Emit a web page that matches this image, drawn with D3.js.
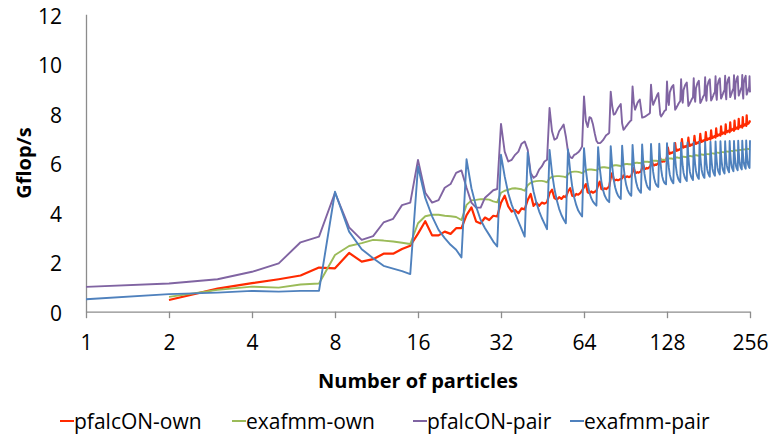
<!DOCTYPE html>
<html>
<head>
<meta charset="utf-8">
<script src="https://cdn.jsdelivr.net/npm/d3@7"></script>
<style>
  body { margin: 0; background: #fff; }
  svg { display: block; }
  text { font-family: "Open Sans", "Liberation Sans", sans-serif; fill: #000; }
</style>
</head>
<body>
<svg class="container" width="772" height="437"></svg>
<script>
  // DATA
  // number of particles, one point per integer from 1 to 256
  var particles = d3.range(1, 257);

  var xTicks = [1, 2, 4, 8, 16, 32, 64, 128, 256];
  var yTicks = [0, 2, 4, 6, 8, 10, 12];

  var seriesNames = ["pfalcON-own", "exafmm-own", "pfalcON-pair", "exafmm-pair"];

  var pfalconOwn = [null, 0.47, 0.93, 1.15, 1.31, 1.46, 1.78,
    1.75, 2.37, 2.02, 2.12, 2.34, 2.34, 2.53, 2.66,
    3.15, 3.65, 3.08, 3.08, 3.23, 3.14, 3.37, 3.37,
    3.90, 4.21, 3.64, 3.56, 3.80, 3.70, 3.87, 3.84,
    4.40, 4.68, 4.25, 4.04, 4.10, 3.97, 4.17, 4.13,
    4.51, 4.75, 4.27, 4.40, 4.27, 4.40, 4.36, 4.42,
    4.78, 4.92, 4.58, 4.52, 4.62, 4.55, 4.66, 4.62,
    4.85, 4.98, 4.68, 4.65, 4.75, 4.72, 4.78, 4.90,
    5.02, 5.15, 4.82, 4.78, 4.85, 4.80, 4.84, 4.88,
    5.10, 5.25, 4.95, 4.92, 4.98, 4.95, 5.00, 5.05,
    5.40, 5.59, 5.35, 5.30, 5.33, 5.30, 5.33, 5.35,
    5.38, 5.50, 5.42, 5.44, 5.46, 5.43, 5.45, 5.48,
    5.65, 5.79, 5.62, 5.60, 5.63, 5.61, 5.64, 5.66,
    5.80, 5.92, 5.78, 5.76, 5.80, 5.78, 5.82, 5.84,
    5.95, 6.05, 5.92, 5.90, 5.94, 5.92, 5.96, 5.98,
    6.10, 6.19, 6.06, 6.05, 6.08, 6.06, 6.10, 6.12,
    6.25, 6.62, 6.40, 6.37, 6.42, 6.40, 6.43, 6.45,
    6.42, 6.80, 6.52, 6.49, 6.54, 6.52, 6.55, 6.57,
    6.55, 6.96, 6.65, 6.62, 6.67, 6.65, 6.68, 6.70,
    6.62, 7.02, 6.72, 6.69, 6.74, 6.72, 6.75, 6.77,
    6.70, 7.10, 6.80, 6.77, 6.82, 6.80, 6.83, 6.85,
    6.78, 7.18, 6.88, 6.85, 6.90, 6.88, 6.91, 6.93,
    6.86, 7.25, 6.96, 6.93, 6.98, 6.96, 6.99, 7.01,
    6.94, 7.32, 7.04, 7.01, 7.06, 7.04, 7.07, 7.09,
    7.02, 7.40, 7.12, 7.09, 7.14, 7.12, 7.15, 7.17,
    7.10, 7.48, 7.20, 7.17, 7.22, 7.20, 7.23, 7.25,
    7.17, 7.56, 7.27, 7.24, 7.29, 7.27, 7.30, 7.32,
    7.24, 7.64, 7.34, 7.31, 7.36, 7.34, 7.37, 7.39,
    7.30, 7.71, 7.40, 7.37, 7.42, 7.40, 7.43, 7.45,
    7.37, 7.78, 7.47, 7.44, 7.49, 7.47, 7.50, 7.52,
    7.43, 7.85, 7.53, 7.50, 7.55, 7.53, 7.56, 7.58,
    7.50, 7.92, 7.60, 7.57, 7.62, 7.60, 7.63, 7.65,
    7.72];

  var exafmmOwn = [null, 0.60, 0.88, 1.01, 0.97, 1.10, 1.14,
    2.29, 2.65, 2.77, 2.90, 2.87, 2.83, 2.78, 2.73,
    3.57, 3.85, 3.91, 3.91, 3.87, 3.85, 3.82, 3.70,
    4.31, 4.49, 4.51, 4.54, 4.54, 4.52, 4.45, 4.41,
    4.80, 4.88, 4.92, 4.97, 4.98, 4.96, 4.94, 4.88,
    5.10, 5.20, 5.25, 5.27, 5.28, 5.28, 5.26, 5.22,
    5.38, 5.44, 5.46, 5.47, 5.47, 5.46, 5.45, 5.42,
    5.55, 5.62, 5.64, 5.65, 5.65, 5.64, 5.62, 5.59,
    5.65, 5.70, 5.73, 5.74, 5.74, 5.73, 5.72, 5.70,
    5.76, 5.80, 5.82, 5.83, 5.83, 5.82, 5.81, 5.80,
    5.84, 5.88, 5.90, 5.91, 5.91, 5.90, 5.89, 5.88,
    5.91, 5.94, 5.95, 5.96, 5.96, 5.95, 5.95, 5.94,
    5.96, 5.99, 6.00, 6.01, 6.01, 6.00, 6.00, 5.99,
    6.01, 6.04, 6.05, 6.05, 6.05, 6.05, 6.04, 6.04,
    6.06, 6.08, 6.09, 6.09, 6.09, 6.09, 6.08, 6.08,
    6.10, 6.12, 6.13, 6.13, 6.13, 6.13, 6.12, 6.12,
    6.15, 6.17, 6.18, 6.18, 6.18, 6.18, 6.17, 6.17,
    6.19, 6.21, 6.22, 6.22, 6.22, 6.21, 6.21, 6.20,
    6.22, 6.24, 6.25, 6.25, 6.25, 6.24, 6.24, 6.23,
    6.25, 6.27, 6.28, 6.28, 6.28, 6.27, 6.27, 6.26,
    6.28, 6.30, 6.31, 6.31, 6.31, 6.30, 6.30, 6.29,
    6.31, 6.33, 6.34, 6.34, 6.34, 6.33, 6.33, 6.32,
    6.34, 6.35, 6.36, 6.36, 6.36, 6.36, 6.35, 6.35,
    6.37, 6.38, 6.39, 6.39, 6.39, 6.38, 6.38, 6.37,
    6.39, 6.41, 6.42, 6.42, 6.42, 6.41, 6.41, 6.40,
    6.42, 6.43, 6.44, 6.44, 6.44, 6.44, 6.43, 6.43,
    6.44, 6.46, 6.46, 6.47, 6.46, 6.46, 6.46, 6.45,
    6.47, 6.48, 6.49, 6.49, 6.49, 6.48, 6.48, 6.48,
    6.49, 6.50, 6.51, 6.51, 6.51, 6.51, 6.50, 6.50,
    6.51, 6.52, 6.53, 6.53, 6.53, 6.53, 6.52, 6.52,
    6.53, 6.54, 6.55, 6.55, 6.55, 6.55, 6.54, 6.54,
    6.55, 6.56, 6.57, 6.57, 6.57, 6.56, 6.56, 6.56,
    6.57];

  var pfalconPair = [1.00, 1.14, 1.31, 1.61, 1.95, 2.80, 3.03,
    4.80, 3.40, 2.90, 3.05, 3.60, 3.75, 4.30, 4.40,
    6.12, 4.80, 4.40, 4.50, 5.00, 5.15, 5.60, 5.70,
    5.00, 4.40, 4.20, 4.20, 4.60, 4.75, 4.90, 4.95,
    7.58, 6.46, 6.06, 6.13, 6.33, 6.46, 6.78, 6.87,
    6.53, 5.60, 5.40, 5.49, 5.73, 5.86, 6.06, 6.13,
    8.22, 7.28, 6.94, 7.00, 7.28, 7.41, 7.55, 7.07,
    6.46, 6.24, 6.20, 6.33, 6.37, 6.43, 6.53, 6.67,
    8.69, 7.70, 7.45, 7.85, 7.80, 7.55, 7.20, 6.90,
    6.80, 6.80, 6.85, 6.92, 7.02, 7.12, 7.16, 7.22,
    8.88, 8.30, 7.95, 7.98, 8.10, 8.22, 8.30, 8.38,
    7.60, 7.34, 7.40, 7.48, 7.55, 7.62, 7.68, 7.72,
    9.09, 8.45, 8.15, 8.28, 8.42, 8.50, 8.56, 8.20,
    7.83, 7.84, 7.86, 7.88, 7.92, 7.95, 7.98, 8.02,
    9.16, 8.60, 8.35, 8.45, 8.55, 8.65, 8.75, 8.82,
    8.40, 7.95, 7.88, 7.95, 8.00, 8.08, 8.12, 8.15,
    9.29, 8.54, 8.34, 8.85, 8.95, 9.05, 9.10, 9.15,
    8.70, 8.15, 8.20, 8.27, 8.33, 8.40, 8.45, 8.50,
    9.38, 8.63, 8.43, 8.95, 9.05, 9.15, 9.20, 9.25,
    8.80, 8.30, 8.35, 8.42, 8.48, 8.55, 8.60, 8.65,
    9.42, 8.67, 8.47, 9.02, 9.12, 9.22, 9.27, 9.32,
    8.87, 8.42, 8.47, 8.54, 8.60, 8.67, 8.72, 8.77,
    9.46, 8.71, 8.51, 9.08, 9.18, 9.28, 9.33, 9.38,
    8.93, 8.52, 8.57, 8.64, 8.70, 8.77, 8.82, 8.87,
    9.50, 8.75, 8.55, 9.12, 9.22, 9.32, 9.37, 9.42,
    8.97, 8.60, 8.65, 8.72, 8.78, 8.85, 8.90, 8.95,
    9.52, 8.77, 8.57, 9.16, 9.26, 9.36, 9.41, 9.46,
    9.01, 8.66, 8.71, 8.78, 8.84, 8.91, 8.96, 9.01,
    9.54, 8.79, 8.59, 9.20, 9.30, 9.40, 9.45, 9.50,
    9.05, 8.72, 8.77, 8.84, 8.90, 8.97, 9.02, 9.07,
    9.55, 8.80, 8.60, 9.22, 9.32, 9.42, 9.47, 9.52,
    9.07, 8.76, 8.81, 8.88, 8.94, 9.01, 9.06, 9.50,
    8.85];

  var exafmmPair = [0.50, 0.71, 0.77, 0.84, 0.81, 0.84, 0.84,
    4.84, 3.23, 2.52, 2.16, 1.85, 1.74, 1.64, 1.52,
    5.86, 4.59, 3.85, 3.30, 2.97, 2.70, 2.50, 2.19,
    6.15, 4.98, 4.24, 3.70, 3.37, 3.10, 2.83, 2.63,
    6.33, 5.46, 4.78, 4.31, 3.97, 3.64, 3.33, 3.03,
    6.43, 5.50, 4.85, 4.40, 4.05, 3.78, 3.55, 3.33,
    6.53, 5.60, 4.95, 4.50, 4.15, 3.90, 3.72, 3.57,
    6.55, 5.70, 5.05, 4.60, 4.30, 4.08, 3.95, 3.84,
    6.60, 5.72, 5.15, 4.80, 4.58, 4.44, 4.35, 4.28,
    6.64, 5.80, 5.25, 4.92, 4.70, 4.57, 4.48, 4.42,
    6.68, 5.86, 5.33, 5.02, 4.82, 4.69, 4.61, 4.55,
    6.70, 5.92, 5.42, 5.12, 4.93, 4.81, 4.73, 4.68,
    6.73, 5.98, 5.50, 5.21, 5.03, 4.92, 4.85, 4.80,
    6.75, 6.03, 5.58, 5.30, 5.13, 5.02, 4.96, 4.92,
    6.77, 6.08, 5.65, 5.38, 5.22, 5.12, 5.06, 5.03,
    6.78, 6.12, 5.72, 5.46, 5.31, 5.22, 5.17, 5.14,
    6.80, 6.18, 5.80, 5.54, 5.39, 5.29, 5.23, 5.18,
    6.81, 6.21, 5.82, 5.57, 5.43, 5.33, 5.27, 5.22,
    6.82, 6.23, 5.86, 5.61, 5.47, 5.38, 5.32, 5.27,
    6.83, 6.25, 5.89, 5.64, 5.51, 5.42, 5.36, 5.31,
    6.84, 6.28, 5.92, 5.69, 5.55, 5.46, 5.40, 5.36,
    6.85, 6.30, 5.95, 5.72, 5.59, 5.50, 5.44, 5.40,
    6.86, 6.32, 5.99, 5.76, 5.63, 5.55, 5.49, 5.45,
    6.86, 6.34, 6.01, 5.79, 5.67, 5.59, 5.53, 5.49,
    6.87, 6.36, 6.05, 5.83, 5.71, 5.63, 5.58, 5.54,
    6.88, 6.39, 6.07, 5.87, 5.75, 5.67, 5.62, 5.58,
    6.88, 6.41, 6.10, 5.90, 5.79, 5.72, 5.67, 5.63,
    6.89, 6.43, 6.13, 5.94, 5.83, 5.76, 5.71, 5.67,
    6.89, 6.44, 6.16, 5.97, 5.86, 5.79, 5.75, 5.71,
    6.90, 6.46, 6.18, 6.00, 5.89, 5.82, 5.78, 5.74,
    6.90, 6.47, 6.20, 6.02, 5.92, 5.85, 5.80, 5.77,
    6.91, 6.48, 6.22, 6.04, 5.94, 5.88, 5.83, 5.80,
    6.92];

  // STYLE
  var colors = ["#ff2a00", "#9bbb59", "#8064a2", "#4f81bd"];
  var axisColor = "#8c8c8c";

  // plot area in pixels
  var plotLeft = 86, plotRight = 750, plotTop = 14.3, plotBottom = 311.7;

  var x = d3.scaleLog().base(2).domain([1, 256]).range([plotLeft, plotRight]);
  var y = d3.scaleLinear().domain([0, 12]).range([plotBottom, plotTop]);

  var svg = d3.select(".container");

  var allSeries = [pfalconOwn, exafmmOwn, pfalconPair, exafmmPair].map(function(values, i) {
    return {
      name: seriesNames[i],
      color: colors[i],
      points: particles.map(function(n, j) { return { n: n, v: values[j] }; })
    };
  });

  // x axis with tick marks pointing down
  var xAxis = d3.axisBottom(x)
    .tickValues(xTicks)
    .tickFormat(d3.format("d"))
    .tickSize(6.5)
    .tickSizeOuter(0)
    .tickPadding(17);

  var gx = svg.append("g")
    .attr("transform", "translate(0," + plotBottom + ")")
    .call(xAxis);
  gx.select(".domain").attr("stroke", axisColor).attr("stroke-width", 1.3);
  gx.selectAll(".tick line").attr("stroke", axisColor).attr("stroke-width", 1.3);
  gx.selectAll(".tick text")
    .attr("font-size", 21)
    .attr("font-family", "Open Sans")
    .attr("fill", "#000");

  // y axis without tick marks
  var yAxis = d3.axisLeft(y)
    .tickValues(yTicks)
    .tickSize(0)
    .tickPadding(24);

  var gy = svg.append("g")
    .attr("transform", "translate(" + plotLeft + ",0)")
    .call(yAxis);
  gy.select(".domain").attr("stroke", axisColor).attr("stroke-width", 1.3);
  gy.selectAll(".tick text")
    .attr("font-size", 21)
    .attr("font-family", "Open Sans")
    .attr("fill", "#000")
    .attr("dy", "0.42em");

  // lines, drawn in legend order
  var line = d3.line()
    .defined(function(d) { return d.v != null; })
    .x(function(d) { return x(d.n); })
    .y(function(d) { return y(d.v); });

  svg.append("g").selectAll("path")
    .data(allSeries)
    .enter()
    .append("path")
    .attr("fill", "none")
    .attr("stroke", function(d) { return d.color; })
    .attr("stroke-width", function(d, i) { return i == 0 ? 2.2 : 1.9; })
    .attr("stroke-linejoin", "round")
    .attr("d", function(d) { return line(d.points); });

  // axis titles
  svg.append("text")
    .attr("x", (plotLeft + plotRight) / 2)
    .attr("y", 388)
    .attr("text-anchor", "middle")
    .attr("font-size", 20)
    .attr("font-weight", "bold")
    .text("Number of particles");

  svg.append("text")
    .attr("transform", "translate(31," + (plotTop + plotBottom) / 2 + ") rotate(-90)")
    .attr("text-anchor", "middle")
    .attr("font-size", 20)
    .attr("font-weight", "bold")
    .text("Gflop/s");

  // legend
  var legendX = [60, 232, 413, 570];
  var legend = svg.append("g").selectAll("g")
    .data(allSeries)
    .enter()
    .append("g")
    .attr("transform", function(d, i) { return "translate(" + legendX[i] + ",421)"; });

  legend.append("line")
    .attr("x1", 0).attr("x2", 14)
    .attr("stroke", function(d) { return d.color; })
    .attr("stroke-width", 2);

  legend.append("text")
    .attr("x", 14)
    .attr("dy", "0.36em")
    .attr("font-size", 21)
    .text(function(d) { return d.name; });
</script>
</body>
</html>
